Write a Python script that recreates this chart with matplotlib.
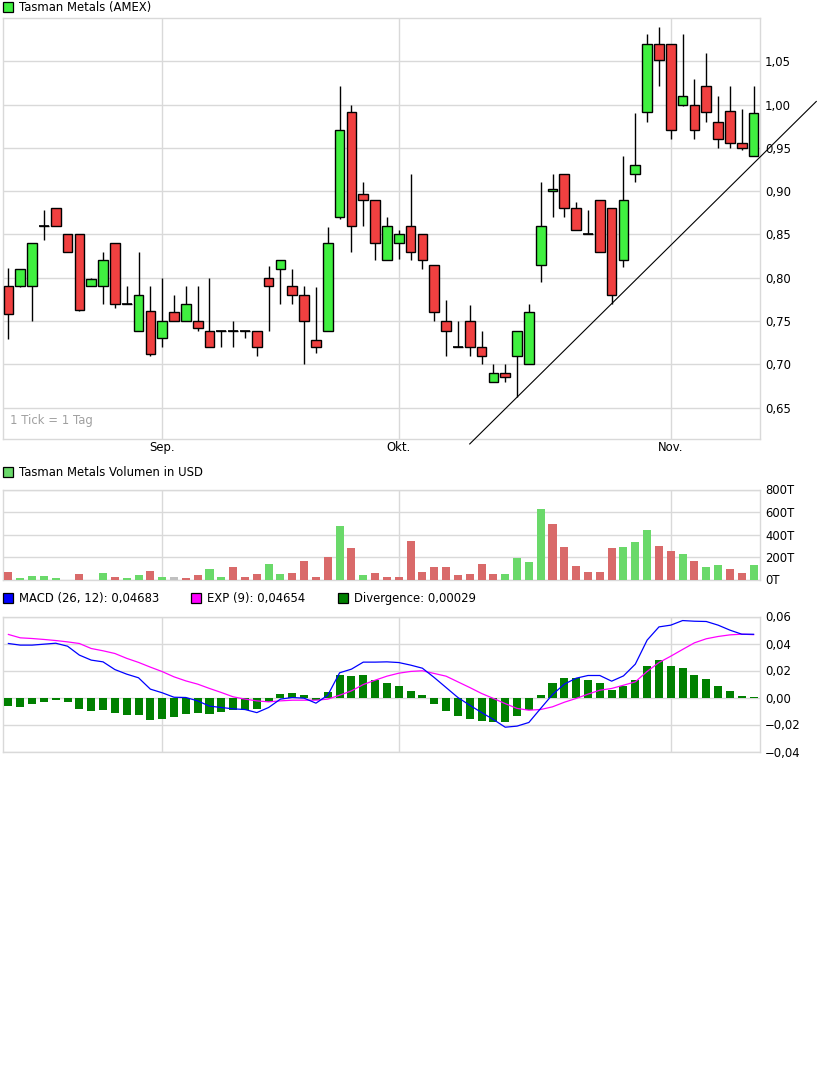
import matplotlib
matplotlib.use("Agg")
import matplotlib.pyplot as plt
from matplotlib.patches import Rectangle
from matplotlib.ticker import FuncFormatter, FixedLocator
import numpy as np

# Kurse (Tageskerzen)
eroeffnung = [0.790, 0.790, 0.790, 0.860, 0.880, 0.851, 0.850, 0.790, 0.790, 0.840,
              0.770, 0.739, 0.761, 0.730, 0.760, 0.750, 0.750, 0.739, 0.739, 0.739,
              0.739, 0.739, 0.800, 0.810, 0.790, 0.780, 0.728, 0.739, 0.870, 0.991,
              0.897, 0.890, 0.820, 0.840, 0.860, 0.850, 0.815, 0.750, 0.720, 0.750,
              0.720, 0.679, 0.690, 0.709, 0.700, 0.815, 0.900, 0.920, 0.880, 0.850,
              0.890, 0.880, 0.820, 0.920, 0.991, 1.070, 1.070, 1.000, 1.000, 1.021,
              0.980, 0.993, 0.955, 0.940]
hoch = [0.811, 0.810, 0.840, 0.878, 0.880, 0.851, 0.850, 0.800, 0.830, 0.840,
        0.790, 0.830, 0.790, 0.800, 0.780, 0.790, 0.790, 0.800, 0.739, 0.750,
        0.739, 0.739, 0.814, 0.820, 0.810, 0.790, 0.789, 0.859, 1.021, 1.000,
        0.910, 0.890, 0.870, 0.855, 0.920, 0.850, 0.815, 0.774, 0.750, 0.768,
        0.739, 0.700, 0.700, 0.739, 0.770, 0.910, 0.920, 0.920, 0.888, 0.878,
        0.890, 0.880, 0.940, 0.990, 1.081, 1.090, 1.070, 1.081, 1.030, 1.060,
        1.010, 1.021, 0.995, 1.021]
tief = [0.729, 0.789, 0.750, 0.844, 0.860, 0.830, 0.762, 0.790, 0.770, 0.765,
        0.770, 0.739, 0.709, 0.720, 0.750, 0.750, 0.739, 0.720, 0.720, 0.720,
        0.730, 0.709, 0.739, 0.770, 0.770, 0.700, 0.713, 0.739, 0.868, 0.830,
        0.860, 0.820, 0.820, 0.822, 0.820, 0.810, 0.750, 0.709, 0.720, 0.710,
        0.700, 0.679, 0.679, 0.662, 0.700, 0.795, 0.870, 0.870, 0.855, 0.850,
        0.830, 0.770, 0.812, 0.910, 0.980, 1.021, 0.960, 0.998, 0.960, 0.980,
        0.950, 0.950, 0.948, 0.940]
schluss = [0.758, 0.810, 0.840, 0.860, 0.860, 0.830, 0.763, 0.798, 0.820, 0.770,
           0.770, 0.780, 0.712, 0.750, 0.750, 0.770, 0.742, 0.720, 0.739, 0.739,
           0.739, 0.720, 0.790, 0.820, 0.780, 0.750, 0.720, 0.840, 0.971, 0.860,
           0.890, 0.840, 0.860, 0.850, 0.830, 0.820, 0.760, 0.739, 0.720, 0.720,
           0.709, 0.690, 0.685, 0.739, 0.760, 0.860, 0.902, 0.880, 0.855, 0.850,
           0.830, 0.780, 0.890, 0.930, 1.070, 1.051, 0.970, 1.010, 0.970, 0.991,
           0.960, 0.955, 0.950, 0.990]

# Volumen in Tausend USD, Richtung: u = hoeher, d = tiefer, n = unveraendert
volumen = [71, 9, 27, 27, 9, 0, 45, 0, 62, 18,
           9, 36, 80, 18, 18, 9, 36, 89, 18, 107,
           18, 45, 134, 45, 62, 161, 18, 196, 473, 277,
           36, 54, 18, 18, 339, 71, 107, 107, 36, 45,
           134, 45, 45, 187, 152, 625, 491, 286, 116, 71,
           71, 277, 286, 330, 437, 294, 250, 223, 161, 107,
           125, 89, 62, 125]
vol_richtung = "duuuuddduduudundduuddduuddddududdddddddddduuuudddddduuudduduuddu"

# MACD
macd = [0.0400, 0.0388, 0.0388, 0.0395, 0.0402, 0.0380, 0.0314, 0.0277, 0.0264, 0.0207,
        0.0173, 0.0146, 0.0062, 0.0035, 0.0002, 0.0000, -0.0025, -0.0064, -0.0074, -0.0084,
        -0.0089, -0.0112, -0.0074, -0.0012, 0.0000, -0.0005, -0.0042, 0.0017, 0.0183, 0.0210,
        0.0262, 0.0262, 0.0264, 0.0259, 0.0240, 0.0217, 0.0148, 0.0074, 0.0000, -0.0057,
        -0.0111, -0.0163, -0.0220, -0.0212, -0.0185, -0.0081, 0.0022, 0.0099, 0.0143, 0.0163,
        0.0163, 0.0121, 0.0160, 0.0247, 0.0425, 0.0523, 0.0536, 0.0570, 0.0565, 0.0563,
        0.0536, 0.0499, 0.0469, 0.04683]
exp9 = [0.0467, 0.0442, 0.0437, 0.0430, 0.0422, 0.0412, 0.0400, 0.0363, 0.0346, 0.0326,
        0.0290, 0.0260, 0.0225, 0.0192, 0.0153, 0.0123, 0.0099, 0.0067, 0.0037, 0.0005,
        -0.0012, -0.0025, -0.0032, -0.0025, -0.0020, -0.0020, -0.0020, -0.0012, 0.0017, 0.0049,
        0.0096, 0.0128, 0.0158, 0.0180, 0.0193, 0.0198, 0.0178, 0.0158, 0.0116, 0.0074,
        0.0030, -0.0007, -0.0045, -0.0081, -0.0094, -0.0089, -0.0069, -0.0035, -0.0007, 0.0025,
        0.0054, 0.0067, 0.0091, 0.0116, 0.0193, 0.0259, 0.0306, 0.0356, 0.0405, 0.0435,
        0.0452, 0.0464, 0.0469, 0.04654]
divergenz = [-0.0064, -0.0072, -0.0049, -0.0035, -0.0020, -0.0035, -0.0086, -0.0101, -0.0094, -0.0116,
             -0.0131, -0.0131, -0.0168, -0.0160, -0.0146, -0.0123, -0.0116, -0.0123, -0.0109, -0.0094,
             -0.0094, -0.0086, -0.0035, 0.0025, 0.0032, 0.0017, -0.0020, 0.0040, 0.0165, 0.0158,
             0.0165, 0.0128, 0.0106, 0.0084, 0.0047, 0.0017, -0.0049, -0.0101, -0.0138, -0.0160,
             -0.0175, -0.0183, -0.0182, -0.0138, -0.0094, 0.0017, 0.0106, 0.0143, 0.0143, 0.0128,
             0.0106, 0.0054, 0.0084, 0.0128, 0.0232, 0.0277, 0.0232, 0.0217, 0.0165, 0.0136,
             0.0084, 0.0047, 0.0010, 0.00029]

# Monatsbeschriftung (Index des Handelstages)
monat_pos = [13, 33, 56]
monat_txt = ["Sep.", "Okt.", "Nov."]

# Trendlinie durch zwei Tiefs
trend_tage = [43, 51]

W, H = 817, 1066
GRUEN = "#40f040"
ROT = "#f04040"
GRID = "#d9d9d9"
FS = 8.4

plt.rcParams['font.family'] = ['DejaVu Sans']
fig = plt.figure(figsize=(W / 100, H / 100), dpi=100)


def achse(links, oben, rechts, unten):
    # Pixelangaben von oben links in Figurkoordinaten umrechnen
    return fig.add_axes([links / W, 1 - unten / H, (rechts - links) / W, (unten - oben) / H])


def stil(ax):
    for s in ax.spines.values():
        s.set_color(GRID)
        s.set_linewidth(1.0)
    ax.yaxis.tick_right()
    ax.tick_params(length=0, labelsize=FS, pad=4, colors="black")
    ax.grid(True, color=GRID, linewidth=1.0)
    ax.set_axisbelow(True)
    ax.xaxis.set_major_locator(FixedLocator(monat_pos))
    ax.set_xlim(-0.5, len(schluss) - 0.5)


def legende(x, y, farbe, text):
    fig.patches.append(Rectangle((x / W, 1 - (y + 10) / H), 10 / W, 10 / H, transform=fig.transFigure,
                                 facecolor=farbe, edgecolor="black", linewidth=0.9))
    fig.text((x + 16) / W, 1 - (y + 5.5) / H, text, fontsize=FS, va="center", ha="left")


komma = lambda v, p: f"{v:.2f}".replace(".", ",").replace("-", "\u2212")

# --- Kerzenchart ---
ax1 = achse(2.5, 17.5, 759.5, 438.5)
stil(ax1)
tage = np.arange(len(schluss))
o = np.array(eroeffnung)
c = np.array(schluss)
ax1.vlines(tage, tief, hoch, color="black", linewidth=1.0, zorder=2)
farben = [GRUEN if cc > oo else ROT for oo, cc in zip(o, c)]
koerper = np.abs(c - o)
ax1.bar(tage, koerper, bottom=np.minimum(o, c), width=0.82, color=farben,
        edgecolor="black", linewidth=1.0, zorder=3)
doji = tage[koerper == 0]
ax1.hlines(c[koerper == 0], doji - 0.42, doji + 0.42, color="black", linewidth=1.2, zorder=3)
ax1.set_ylim(0.6143, 1.1005)
ax1.yaxis.set_major_locator(FixedLocator(np.arange(0.65, 1.06, 0.05)))
ax1.yaxis.set_major_formatter(FuncFormatter(komma))
ax1.set_xticklabels(monat_txt)
ax1.tick_params(axis="x", pad=2)
ax1.text(0.01, 0.035, "1 Tick = 1 Tag", transform=ax1.transAxes, fontsize=FS, color="#a0a0a0")

steigung = (tief[trend_tage[1]] - tief[trend_tage[0]]) / (trend_tage[1] - trend_tage[0])
tx = np.array([39.0, 68.3])
ty = tief[trend_tage[0]] + steigung * (tx - trend_tage[0])
ax1.plot(tx, ty, color="black", linewidth=0.8, clip_on=False, zorder=4)

legende(3.3, 1.7, GRUEN, "Tasman Metals (AMEX)")

# --- Volumen ---
ax2 = achse(2.5, 489.5, 759.5, 579.5)
stil(ax2)
vfarbe = {"u": "#6ad96a", "d": "#d96a6a", "n": "#c0c0c0"}
ax2.bar(tage, volumen, width=0.68, color=[vfarbe[r] for r in vol_richtung], zorder=3)
ax2.set_ylim(0, 800)
ax2.yaxis.set_major_locator(FixedLocator([0, 200, 400, 600, 800]))
ax2.yaxis.set_major_formatter(FuncFormatter(lambda v, p: f"{int(v)}T"))
ax2.set_xticklabels([])
legende(3.3, 466.7, "#6ad96a", "Tasman Metals Volumen in USD")

# --- MACD ---
ax3 = achse(2.5, 616.5, 759.5, 751.5)
stil(ax3)
ax3.bar(tage, divergenz, width=0.68, color="#008000", zorder=3)
ax3.plot(tage, exp9, color="#ff00ff", linewidth=0.9, zorder=4)
ax3.plot(tage, macd, color="#0000ff", linewidth=0.9, zorder=5)
ax3.set_ylim(-0.04, 0.06)
ax3.yaxis.set_major_locator(FixedLocator([-0.04, -0.02, 0.0, 0.02, 0.04, 0.06]))
ax3.yaxis.set_major_formatter(FuncFormatter(komma))
ax3.set_xticklabels([])

def wert(v, n):
    return f"{v:.{n}f}".replace(".", ",")

legende(3.3, 593.3, "#0000ff", f"MACD (26, 12): {wert(macd[-1], 5)}")
legende(191.3, 593.3, "#ff00ff", f"EXP (9): {wert(exp9[-1], 5)}")
legende(337.7, 593.3, "#008000", f"Divergence: {wert(divergenz[-1], 5)}")

fig.savefig("out.png", dpi=100)
